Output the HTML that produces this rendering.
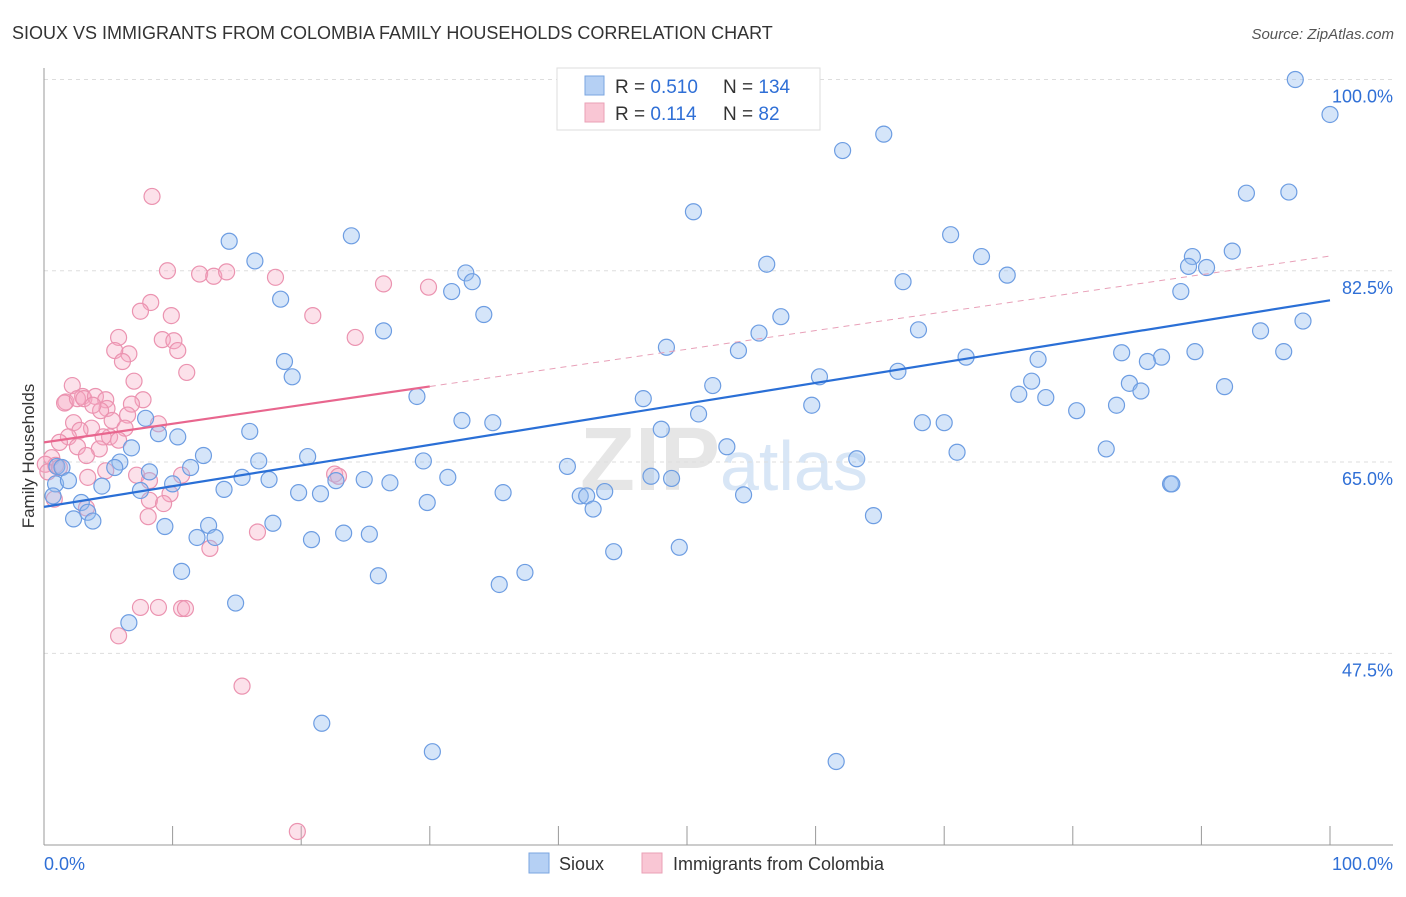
<!DOCTYPE html>
<html><head><meta charset="utf-8"><style>
body{margin:0;background:#fff;font-family:"Liberation Sans",sans-serif;}
svg text{font-family:"Liberation Sans",sans-serif;}
</style></head><body>
<svg id="chart" width="1406" height="892" viewBox="0 0 1406 892">
<text x="12" y="39" font-size="18" fill="#333">SIOUX VS IMMIGRANTS FROM COLOMBIA FAMILY HOUSEHOLDS CORRELATION CHART</text>
<text x="1394" y="39" font-size="15" fill="#555" font-style="italic" text-anchor="end">Source: ZipAtlas.com</text>
<text x="720" y="490" font-size="90" fill="#e6e6e6" text-anchor="end" font-family="Liberation Serif" font-weight="bold">ZIP</text>
<text x="720" y="490" font-size="70" fill="#d8e6f6">atlas</text>
<g id="grid"></g>
<g id="axes"></g>
<g id="pts"></g>
<g id="trends"></g>
<text x="34" y="456" font-size="17" fill="#333" text-anchor="middle" transform="rotate(-90 34 456)">Family Households</text>
<g>
<rect x="557" y="68" width="263" height="62" fill="#fff" stroke="#ddd"/>
<rect x="585" y="76" width="19" height="19" fill="#b5d0f4" stroke="#7aa6e0"/>
<rect x="585" y="103" width="19" height="19" fill="#f9c6d4" stroke="#eaa0b6"/>
<text x="615" y="93" font-size="19" fill="#333">R = <tspan fill="#2f6fd6">0.510</tspan></text>
<text x="723" y="93" font-size="19" fill="#333">N = <tspan fill="#2f6fd6">134</tspan></text>
<text x="615" y="120" font-size="19" fill="#333">R =  <tspan fill="#2f6fd6">0.114</tspan></text>
<text x="723" y="120" font-size="19" fill="#333">N =   <tspan fill="#2f6fd6">82</tspan></text>
</g>
<g>
<rect x="529" y="853" width="20" height="20" fill="#b5d0f4" stroke="#7aa6e0"/>
<text x="559" y="870" font-size="18" fill="#333">Sioux</text>
<rect x="642" y="853" width="20" height="20" fill="#f9c6d4" stroke="#eaa0b6"/>
<text x="673" y="870" font-size="18" fill="#333">Immigrants from Colombia</text>
</g>
</svg>
<script>
const yTicks=[100,82.5,65,47.5];
const yTickLabels=["100.0%","82.5%","65.0%","47.5%"];
const xTicks=[0,10,20,30,40,50,60,70,80,90,100];
const xEndLabels=["0.0%","100.0%"];
const siouxX=[97.3,100,65.3,62.1,93.5,96.8,50.5,70.5,23.9,14.4,16.4,92.4,89.3,72.9,90.4,89.0,56.2,74.9,32.8,33.3,31.7,66.8,88.4,18.4,34.2,57.3,97.9,55.6,26.4,68.0,94.6,48.4,54.0,83.8,96.4,89.5,86.9,85.8,71.7,77.3,18.7,19.3,66.4,60.3,84.4,76.8,52.0,91.8,85.3,75.8,77.9,29.0,46.6,59.7,83.4,80.3,50.9,32.5,34.9,68.3,70.0,7.9,16.0,8.9,10.4,48.0,71.0,53.1,82.6,12.4,20.5,16.7,6.8,5.9,11.4,29.5,63.2,5.5,40.7,1.0,1.4,0.9,1.9,0.7,4.5,2.9,3.4,2.3,3.8,8.2,15.4,17.5,14.0,7.5,10.0,19.8,21.5,22.7,24.9,26.9,31.4,47.2,48.8,35.7,29.8,41.7,42.2,43.6,42.7,54.4,64.5,87.6,87.7,9.4,12.8,17.8,11.9,13.3,20.8,23.3,25.3,44.3,49.4,10.7,26.0,37.4,35.4,14.9,6.6,21.6,30.2,61.6,43.2];
const siouxY=[100.0,96.8,95.0,93.5,89.6,89.7,87.9,85.8,85.7,85.2,83.4,84.3,83.8,83.8,82.8,82.9,83.1,82.1,82.3,81.5,80.6,81.5,80.6,79.9,78.5,78.3,77.9,76.8,77.0,77.1,77.0,75.5,75.2,75.0,75.1,75.1,74.6,74.2,74.6,74.4,74.2,72.8,73.3,72.8,72.2,72.4,72.0,71.9,71.5,71.2,70.9,71.0,70.8,70.2,70.2,69.7,69.4,68.8,68.6,68.6,68.6,69.0,67.8,67.6,67.3,68.0,65.9,66.4,66.2,65.6,65.5,65.1,66.3,65.0,64.5,65.1,65.3,64.5,64.6,64.6,64.5,63.0,63.3,61.9,62.8,61.3,60.4,59.8,59.6,64.1,63.6,63.4,62.5,62.4,63.0,62.2,62.1,63.3,63.4,63.1,63.6,63.7,63.5,62.2,61.3,61.9,61.9,62.3,60.7,62.0,60.1,63.0,63.0,59.1,59.2,59.4,58.1,58.1,57.9,58.5,58.4,56.8,57.2,55.0,54.6,54.9,53.8,52.1,50.3,41.1,38.5,37.6,100.0];
const colX=[8.4,9.6,12.1,13.2,14.2,18.0,26.4,29.9,8.3,7.5,9.9,20.9,5.8,9.2,10.1,10.4,24.2,6.6,5.5,6.1,11.1,2.2,7.0,3.0,1.7,1.6,2.6,3.1,4.0,4.8,4.9,7.7,6.8,4.4,3.8,6.5,8.9,2.3,3.7,2.8,5.3,6.3,1.9,5.1,4.6,5.8,1.2,2.6,4.3,3.3,0.6,0.9,0.1,0.3,1.2,4.8,3.4,10.7,7.2,22.6,22.9,8.2,9.8,0.8,8.2,9.3,3.3,8.1,16.6,12.9,7.5,8.9,10.7,11.0,5.8,15.4,19.7];
const colY=[89.3,82.5,82.2,82.0,82.4,81.9,81.3,81.0,79.6,78.8,78.4,78.4,76.4,76.2,76.1,75.2,76.4,74.9,75.2,74.2,73.2,72.0,72.4,71.0,70.5,70.4,70.8,70.8,71.0,70.7,69.9,70.7,70.3,69.7,70.2,69.3,68.5,68.6,68.1,67.9,68.8,68.1,67.3,67.3,67.3,67.0,66.8,66.4,66.2,65.6,65.4,64.7,64.8,64.1,64.5,64.2,63.6,63.8,63.8,63.9,63.7,63.3,62.1,61.6,61.5,61.2,60.8,60.0,58.6,57.1,51.7,51.7,51.6,51.6,49.1,44.5,31.2];
const siouxTrend=[60.9,79.8];
const colTrend=[66.8,83.85];
const colSolidEnd=30;

const NS="http://www.w3.org/2000/svg";
const X=v=>44+v*12.86;
const Y=v=>79.5+(100-v)*10.93;
function mk(tag,attrs,parent){const e=document.createElementNS(NS,tag);for(const k in attrs)e.setAttribute(k,attrs[k]);parent.appendChild(e);return e;}
const grid=document.getElementById('grid'),axes=document.getElementById('axes'),pts=document.getElementById('pts'),tr=document.getElementById('trends');
yTicks.forEach((t,i)=>{
 const l=mk('line',{x1:44,x2:1393,y1:Y(t),y2:Y(t),stroke:'#ddd','stroke-dasharray':'4 4'},grid);
 
 
 const tx=mk('text',{x:1393,y:Y(t)+23,'font-size':18,fill:'#2f6fd6','text-anchor':'end'},axes);
 tx.textContent=yTickLabels[i];
 
 
});
const ax=mk('line',{x1:44,x2:44,y1:68,y2:845,stroke:'#999'},axes);


const bx=mk('line',{x1:44,x2:1393,y1:845,y2:845,stroke:'#999'},axes);


xTicks.forEach(t=>{
 const l=mk('line',{x1:X(t),x2:X(t),y1:826,y2:845,stroke:'#999'},axes);
 
 
});
const xl0=mk('text',{x:44,y:870,'font-size':18,fill:'#2f6fd6'},axes);xl0.textContent=xEndLabels[0];


const xl1=mk('text',{x:1393,y:870,'font-size':18,fill:'#2f6fd6','text-anchor':'end'},axes);xl1.textContent=xEndLabels[1];


colX.forEach((v,i)=>{
 const c=mk('circle',{cx:X(v),cy:Y(colY[i]),r:8,fill:'rgba(245,170,195,0.35)',stroke:'#eb93b0','stroke-width':1.2},pts);
 
 
});
siouxX.forEach((v,i)=>{
 const c=mk('circle',{cx:X(v),cy:Y(siouxY[i]),r:8,fill:'rgba(150,190,240,0.4)',stroke:'#6d9de2','stroke-width':1.2},pts);
 
 
});
const at=(a,x)=>a[0]+(a[1]-a[0])*x/100;
const l1=mk('line',{x1:X(0),y1:Y(siouxTrend[0]),x2:X(100),y2:Y(siouxTrend[1]),stroke:'#2a6fd6','stroke-width':2.2},tr);


const l2=mk('line',{x1:X(0),y1:Y(colTrend[0]),x2:X(colSolidEnd),y2:Y(at(colTrend,colSolidEnd)),stroke:'#e8668e','stroke-width':2.2},tr);


const l3=mk('line',{x1:X(colSolidEnd),y1:Y(at(colTrend,colSolidEnd)),x2:X(100),y2:Y(colTrend[1]),stroke:'#e8a0b8','stroke-width':1,'stroke-dasharray':'6 5'},tr);


</script>
</body></html>
